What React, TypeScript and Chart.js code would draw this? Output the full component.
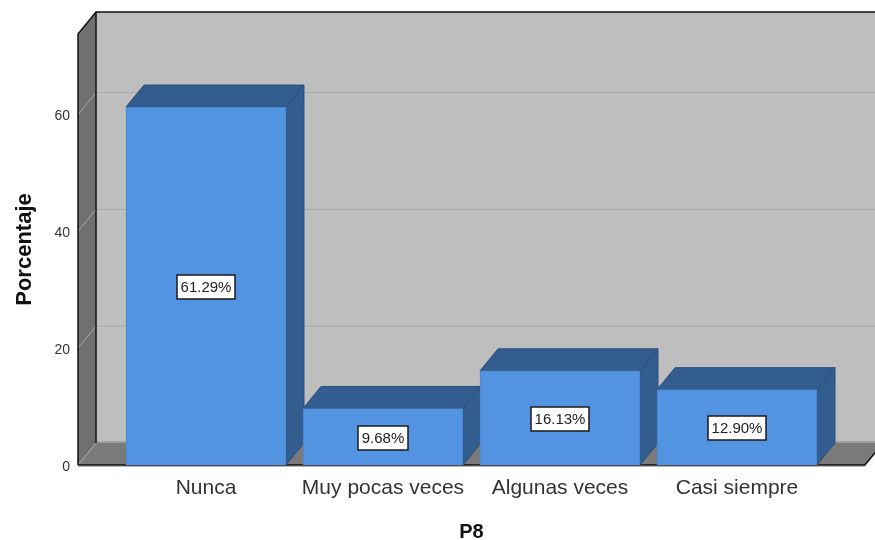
import React, { useEffect, useRef } from "react";
import { Chart, registerables } from "chart.js";

Chart.register(...registerables);

const categories = ["Nunca", "Muy pocas veces", "Algunas veces", "Casi siempre"];
const percentages = [61.29, 9.68, 16.13, 12.9];
const valueLabels = ["61.29%", "9.68%", "16.13%", "12.90%"];
const yTicks = [0, 20, 40, 60];
const yTitle = "Porcentaje";
const xTitle = "P8";

const DX = 18;
const DY = -22;
const FONT = "'Liberation Sans', Arial, sans-serif";

function poly(ctx: CanvasRenderingContext2D, pts: number[][], fill: string | null, stroke: string | null, lw = 1) {
  ctx.beginPath();
  pts.forEach((p, i) => (i ? ctx.lineTo(p[0], p[1]) : ctx.moveTo(p[0], p[1])));
  if (fill) {
    ctx.closePath();
    ctx.fillStyle = fill;
    ctx.fill();
  }
  if (stroke) {
    ctx.strokeStyle = stroke;
    ctx.lineWidth = lw;
    ctx.stroke();
  }
}

const box3d = {
  id: "box3d",
  beforeDatasetsDraw(chart: any) {
    const { ctx, chartArea: a, scales } = chart;
    const y = scales.y;
    const { left: l, right: r, top: t, bottom: b } = a;
    ctx.save();
    // back wall
    poly(ctx, [[l + DX, t + DY], [r + DX, t + DY], [r + DX, b + DY], [l + DX, b + DY]], "#bebebe", null);
    // side wall
    poly(ctx, [[l, t], [l + DX, t + DY], [l + DX, b + DY], [l, b]], "#707070", null);
    // floor
    poly(ctx, [[l, b], [l + DX, b + DY], [r + DX, b + DY], [r, b]], "#7a7a7a", null);
    // grid
    yTicks.forEach((v) => {
      const py = y.getPixelForValue(v);
      if (v > 0) {
        poly(ctx, [[l + DX, py + DY], [r + DX, py + DY]], null, "#a8a8a8", 1);
      } else {
        poly(ctx, [[l + DX, py + DY - 1], [r + DX, py + DY - 1]], null, "#a0a0a0", 2);
      }
      poly(ctx, [[l, py], [l + DX, py + DY]], null, "#a8a8a8", 1);
    });
    // frame
    poly(ctx, [[l, b], [l, t], [l + DX, t + DY], [r + DX + 10, t + DY]], null, "#111111", 1.5);
    poly(ctx, [[l + DX, t + DY], [l + DX, b + DY]], null, "#111111", 1.5);
    poly(ctx, [[l, b], [r, b], [r + DX, b + DY]], null, "#111111", 1.5);
    poly(ctx, [[l, b + 1.5], [r, b + 1.5]], null, "#b4b4b4", 1);
    // bar top and side faces
    const bars = chart.getDatasetMeta(0).data;
    bars.forEach((bar: any) => {
      const half = bar.width / 2;
      const x0 = bar.x - half;
      const x1 = bar.x + half;
      const yt = bar.y;
      const yb = bar.base;
      poly(ctx, [[x0, yt], [x0 + DX, yt + DY], [x1 + DX, yt + DY], [x1, yt]], "#335c8f", "#2b4f7d", 1);
      poly(ctx, [[x1, yt], [x1 + DX, yt + DY], [x1 + DX, yb + DY], [x1, yb]], "#335c8f", "#2b4f7d", 1);
    });
    ctx.restore();
  },
  afterDatasetsDraw(chart: any) {
    const { ctx } = chart;
    const bars = chart.getDatasetMeta(0).data;
    ctx.save();
    ctx.font = `15px ${FONT}`;
    ctx.textAlign = "center";
    ctx.textBaseline = "middle";
    bars.forEach((bar: any, i: number) => {
      const text = valueLabels[i];
      const w = ctx.measureText(text).width + 7;
      const h = 24;
      const cy = (bar.y + bar.base) / 2 + 1;
      const bx = Math.round(bar.x - w / 2);
      const by = Math.round(cy - h / 2);
      ctx.fillStyle = "#ffffff";
      ctx.fillRect(bx, by, Math.round(w), h);
      ctx.strokeStyle = "#1a1a1a";
      ctx.lineWidth = 1.5;
      ctx.strokeRect(bx, by, Math.round(w), h);
      ctx.fillStyle = "#222222";
      ctx.fillText(text, bar.x, by + h / 2 + 1);
    });
    ctx.restore();
  },
};

export default function App() {
  const ref = useRef<HTMLCanvasElement>(null);
  useEffect(() => {
    if (!ref.current) return;
    const chart = new Chart(ref.current, {
      type: "bar",
      data: {
        datasets: [
          {
            data: percentages.map((v, i) => ({ x: i, y: v })),
            backgroundColor: "#5294e2",
            borderColor: "#4a85cc",
            borderWidth: 1,
            barThickness: 160,
          },
        ],
      },
      options: {
        responsive: false,
        animation: false,
        layout: { padding: { top: 34, right: 10, left: 0, bottom: 0 } },
        plugins: { legend: { display: false }, tooltip: { enabled: false } },
        scales: {
          x: {
            type: "linear",
            offset: false,
            min: -0.723,
            max: 3.723,
            grid: { display: false },
            border: { display: false },
            afterBuildTicks: (s: any) => {
              s.ticks = categories.map((_, i) => ({ value: i }));
            },
            afterFit: (s: any) => {
              s.height = 75;
            },
            ticks: {
              autoSkip: false,
              maxRotation: 0,
              padding: 3,
              color: "#333333",
              font: { family: FONT, size: 21 },
              callback: (v: any) => categories[v as number] ?? "",
            },
            title: {
              display: true,
              text: xTitle,
              color: "#111111",
              font: { family: FONT, size: 20, weight: "bold", lineHeight: 1 },
              padding: { top: 4, bottom: -2 },
            },
          },
          y: {
            type: "linear",
            min: 0,
            max: 73.8,
            grid: { display: false },
            border: { display: false },
            afterFit: (s: any) => {
              s.width = 78;
            },
            ticks: {
              stepSize: 20,
              includeBounds: false,
              padding: 0,
              labelOffset: 2,
              color: "#333333",
              font: { family: FONT, size: 14 },
            },
            title: {
              display: true,
              text: yTitle,
              color: "#111111",
              font: { family: FONT, size: 22, weight: "bold" },
              padding: { top: 12, bottom: 0 },
            },
          },
        },
      },
      plugins: [box3d],
    } as any);
    return () => chart.destroy();
  }, []);
  return (
    <div style={{ position: "absolute", left: 0, top: 0, width: 875, height: 540 }}>
      <canvas ref={ref} width={875} height={540} style={{ display: "block" }} />
    </div>
  );
}
